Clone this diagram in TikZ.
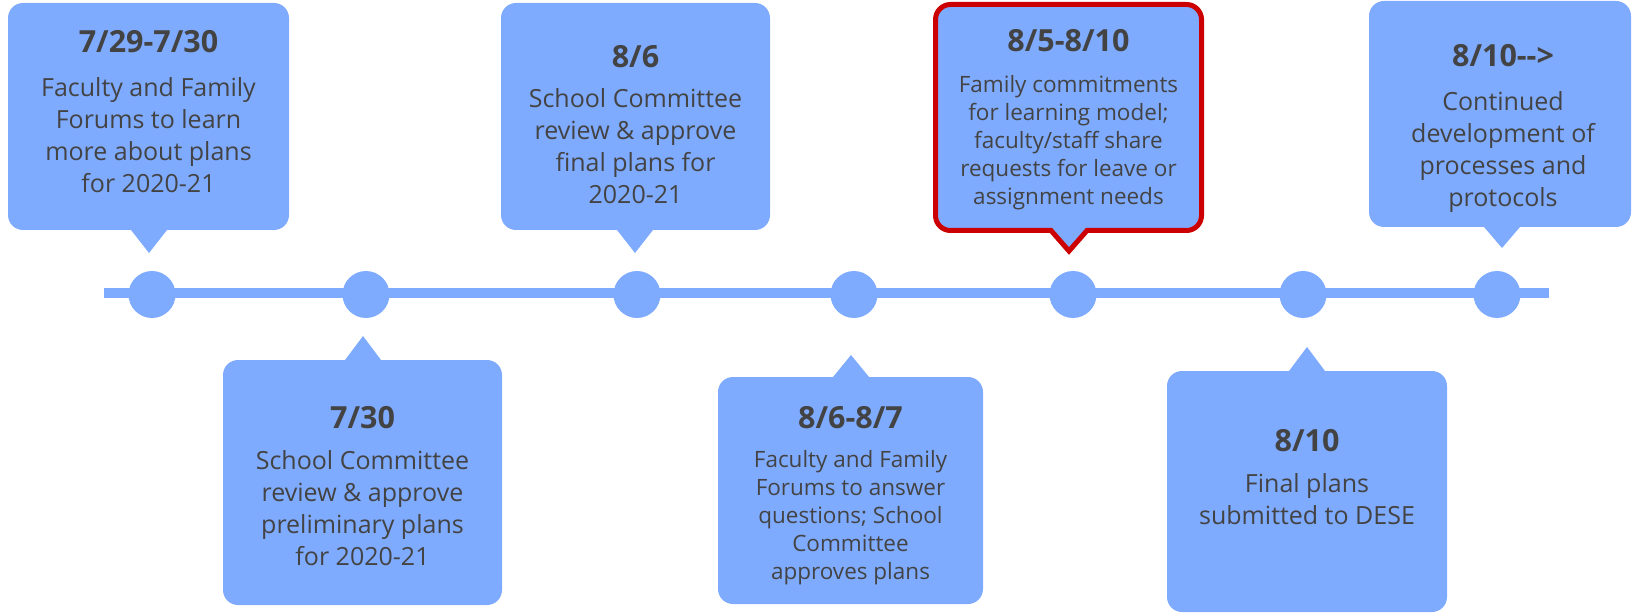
\documentclass[tikz,border=0pt]{standalone}
\usepackage{fontspec}
\setmainfont{Open Sans}
\definecolor{bub}{HTML}{7FABFF}
\definecolor{txt}{HTML}{434343}
\definecolor{hl}{HTML}{CC0000}
\tikzset{
  datestyle/.style={anchor=base, inner sep=0pt, text=txt, font=\fontsize{30.5}{36}\bfseries\selectfont},
  bodystyle/.style={anchor=base, inner sep=0pt, text=txt, align=center, font=\fontsize{25}{32}\selectfont},
  smallbody/.style={anchor=base, inner sep=0pt, text=txt, align=center, font=\fontsize{22.5}{28}\selectfont},
  dot/.style={circle, fill=bub, minimum size=47pt, inner sep=0pt},
  axisline/.style={draw=bub, line width=10pt},
  bubblefill/.style={fill=bub},
  bubblehl/.style={fill=bub, draw=hl, line width=5pt, line join=miter},
}
% tail at the bottom: style, L, R, T, B, apex x, apex y
\newcommand\topbubble[7]{%
  \path[#1] ({#2+15},#4) -- ({#3-15},#4) arc[start angle=90,end angle=0,radius=15pt]
    -- (#3,{#5+15}) arc[start angle=0,end angle=-90,radius=15pt]
    -- ({#6+18},#5) -- (#6,#7) -- ({#6-18},#5)
    -- ({#2+15},#5) arc[start angle=270,end angle=180,radius=15pt]
    -- (#2,{#4-15}) arc[start angle=180,end angle=90,radius=15pt] -- cycle;}
% tail at the top
\newcommand\botbubble[7]{%
  \path[#1] ({#2+15},#4) -- ({#6-18},#4) -- (#6,#7) -- ({#6+18},#4)
    -- ({#3-15},#4) arc[start angle=90,end angle=0,radius=15pt]
    -- (#3,{#5+15}) arc[start angle=0,end angle=-90,radius=15pt]
    -- ({#2+15},#5) arc[start angle=270,end angle=180,radius=15pt]
    -- (#2,{#4-15}) arc[start angle=180,end angle=90,radius=15pt] -- cycle;}
\begin{document}
\begin{tikzpicture}[x=1pt,y=1pt]
\useasboundingbox (0,0) rectangle (1633,614);
% timeline
\coordinate (tl) at (104,321);
\coordinate (tr) at (1549,321);
\draw[axisline] (tl) -- (tr);
\node[dot] (c1) at (152,319.5) {};
\node[dot] (c2) at (366,319.5) {};
\node[dot] (c3) at (637,319.5) {};
\node[dot] (c4) at (854,319.5) {};
\node[dot] (c5) at (1073,319.5) {};
\node[dot] (c6) at (1303,319.5) {};
\node[dot] (c7) at (1497,319.5) {};
% bubbles
\topbubble{bubblefill}{8}{289}{611}{384}{149}{361}
\botbubble{bubblefill}{223}{502}{254}{9}{363}{278}
\topbubble{bubblefill}{501}{770}{611}{384}{635}{361}
\botbubble{bubblefill}{718}{983}{237}{10}{851}{259}
\topbubble{bubblehl}{935.5}{1201.5}{609.5}{383.5}{1069}{363}
\botbubble{bubblefill}{1167}{1447}{243}{2}{1307}{267}
\topbubble{bubblefill}{1369}{1631}{613}{387}{1502}{366}
% texts (body nodes anchored at the baseline of their last line)
\node[datestyle] (d1) at (148.5,561) {7/29-7/30};
\node[bodystyle] (t1) at (148.5,421) {Faculty and Family\\Forums to learn\\more about plans\\for 2020-21};
\node[datestyle] (d2) at (362.5,186) {7/30};
\node[bodystyle] (t2) at (362.5,49) {School Committee\\review \& approve\\preliminary plans\\for 2020-21};
\node[datestyle] (d3) at (635.5,546) {8/6};
\node[bodystyle] (t3) at (635.5,410) {School Committee\\review \& approve\\final plans for\\2020-21};
\node[datestyle] (d4) at (850.5,186) {8/6-8/7};
\node[smallbody] (t4) at (850.5,35) {Faculty and Family\\Forums to answer\\questions; School\\Committee\\approves plans};
\node[datestyle] (d5) at (1068.5,562) {8/5-8/10};
\node[smallbody] (t5) at (1068.5,409) {Family commitments\\for learning model;\\faculty/staff share\\requests for leave or\\assignment needs};
\node[datestyle] (d6) at (1307,163) {8/10};
\node[bodystyle] (t6) at (1307,90) {Final plans\\submitted to DESE};
\node[datestyle] (d7) at (1503,547) {8/10-{}->};
\node[bodystyle] (t7) at (1503,407) {Continued\\development of\\processes and\\protocols};
\end{tikzpicture}
\end{document}
